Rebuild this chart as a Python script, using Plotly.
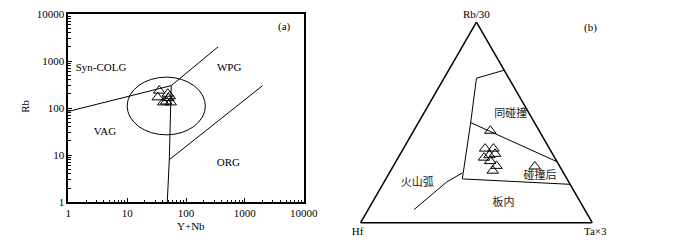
import plotly.graph_objects as go

# ---------------- Panel (a): Rb vs Y+Nb (log-log) ----------------
samples_ynb = [35, 33, 49, 53, 46, 41, 55, 50]
samples_rb = [235, 169, 202, 179, 138, 132, 132, 163]

# boundary lines (Pearce et al. 1984)
vag_syn_x = [1, 56]
vag_syn_y = [85, 300]
wpg_syn_x = [56, 350]
wpg_syn_y = [300, 2000]
vag_wpg_x = [56, 52, 48]
vag_wpg_y = [300, 8, 1]
wpg_org_x = [52, 2000]
wpg_org_y = [8, 300]

# post-collisional field (ellipse bounding box)
ellipse_x = [10, 213]
ellipse_y = [27, 455]

# field labels (a)
field_a_names = ["Syn-COLG", "WPG", "VAG", "ORG"]
field_a_x = [3.6, 540, 4.2, 525]
field_a_y = [705, 705, 30, 6.8]

tick_vals = [1, 10, 100, 1000, 10000]
tick_text = ["1", "10", "100", "1000", "10000"]
minor_tick_vals = [m * d for d in [1, 10, 100, 1000] for m in range(2, 10)]

# ---------------- Panel (b): Hf - Rb/30 - Ta*3 ternary ----------------
tern_a = [0.458, 0.369, 0.369, 0.343, 0.324, 0.336, 0.307, 0.283, 0.259, 0.280]   # Rb/30
tern_b = [0.211, 0.278, 0.242, 0.248, 0.305, 0.276, 0.287, 0.272, 0.300, 0.108]   # Hf
tern_c = [0.331, 0.353, 0.389, 0.409, 0.371, 0.388, 0.406, 0.445, 0.441, 0.612]   # Ta*3

# boundary lines (Harris et al. 1986)
top_line_a = [0.76, 0.72]
top_line_b = [0.0, 0.14]
top_line_c = [0.24, 0.14]
left_line_a = [0.72, 0.4985, 0.218]
left_line_b = [0.14, 0.2755, 0.452]
left_line_c = [0.14, 0.226, 0.330]
syn_post_a = [0.4985, 0.304]
syn_post_b = [0.2755, 0.0]
syn_post_c = [0.226, 0.696]
post_wp_a = [0.218, 0.191]
post_wp_b = [0.452, 0.0]
post_wp_c = [0.330, 0.809]
arc_a = [0.248, 0.202, 0.065]
arc_b = [0.437, 0.528, 0.737]
arc_c = [0.315, 0.270, 0.198]

field_b_names = ["同碰撞", "碰撞后", "火山弧", "板内"]
field_b_a = [0.542, 0.232, 0.194, 0.095]
field_b_b = [0.081, 0.109, 0.659, 0.336]
field_b_c = [0.377, 0.659, 0.147, 0.569]

SERIF = "Liberation Serif, Times New Roman, serif"
CJK = "Noto Sans CJK SC"
BLACK = "black"

fig = go.Figure()

line_style = dict(color=BLACK, width=1)
for xs, ys in [(vag_syn_x, vag_syn_y), (wpg_syn_x, wpg_syn_y),
               (vag_wpg_x, vag_wpg_y), (wpg_org_x, wpg_org_y)]:
    fig.add_trace(go.Scatter(x=xs, y=ys, mode="lines", line=line_style,
                             showlegend=False, hoverinfo="skip",
                             xaxis="x", yaxis="y"))

fig.add_trace(go.Scatter(
    x=samples_ynb, y=samples_rb, mode="markers",
    marker=dict(symbol="triangle-up-open", size=10, color=BLACK,
                line=dict(width=1, color=BLACK)),
    showlegend=False, xaxis="x", yaxis="y"))

fig.add_trace(go.Scatter(
    x=field_a_x, y=field_a_y, mode="text", text=field_a_names,
    textfont=dict(family=SERIF, size=11, color=BLACK),
    showlegend=False, hoverinfo="skip", xaxis="x", yaxis="y"))

fig.add_shape(type="circle", xref="x", yref="y",
              x0=ellipse_x[0], x1=ellipse_x[1],
              y0=ellipse_y[0], y1=ellipse_y[1],
              line=dict(color=BLACK, width=1))

# ternary traces
for aa, bb, cc in [(top_line_a, top_line_b, top_line_c),
                   (left_line_a, left_line_b, left_line_c),
                   (syn_post_a, syn_post_b, syn_post_c),
                   (post_wp_a, post_wp_b, post_wp_c),
                   (arc_a, arc_b, arc_c)]:
    fig.add_trace(go.Scatterternary(a=aa, b=bb, c=cc, mode="lines",
                                    line=line_style, showlegend=False,
                                    hoverinfo="skip", subplot="ternary"))

fig.add_trace(go.Scatterternary(
    a=tern_a, b=tern_b, c=tern_c, mode="markers",
    marker=dict(symbol="triangle-up-open", size=10, color=BLACK,
                line=dict(width=1, color=BLACK)),
    showlegend=False, subplot="ternary"))

fig.add_trace(go.Scatterternary(
    a=field_b_a, b=field_b_b, c=field_b_c, mode="text", text=field_b_names,
    textfont=dict(family=CJK, size=11, color="#222"),
    showlegend=False, hoverinfo="skip", subplot="ternary"))

axis_common = dict(
    type="log", range=[0, 4], showgrid=False, zeroline=False,
    showline=True, linecolor=BLACK, linewidth=1.5, mirror=True,
    ticks="inside", ticklen=4, tickcolor=BLACK, tickwidth=1,
    tickmode="array", tickvals=tick_vals, ticktext=tick_text,
    ticklabeloverflow="allow",
    tickfont=dict(family=SERIF, size=11, color=BLACK),
    minor=dict(tickmode="array", tickvals=minor_tick_vals,
               ticks="inside", ticklen=2.5, tickcolor=BLACK, tickwidth=1,
               showgrid=False),
)

tern_axis = dict(showline=True, linecolor=BLACK, linewidth=1.5,
                 ticks="", showticklabels=False, showgrid=False)

ann_font = dict(family=SERIF, size=11, color=BLACK)
fig.update_layout(
    width=700, height=242,
    margin=dict(l=0, r=0, t=0, b=0),
    paper_bgcolor="white", plot_bgcolor="white",
    font=dict(family=SERIF, size=11, color=BLACK),
    xaxis=dict(domain=[0.0839, 0.4286], anchor="y", **axis_common),
    yaxis=dict(domain=[0.1818, 1.0], anchor="x", **axis_common),
    ternary=dict(
        domain=dict(x=[0.5079, 0.855], y=[0.0929, 0.9649]),
        sum=1, bgcolor="white",
        aaxis=dict(title=dict(text="Rb/30", font=ann_font), **tern_axis),
        baxis=dict(title=dict(text="Hf", font=ann_font), **tern_axis),
        caxis=dict(title=dict(text="Ta×3", font=ann_font), **tern_axis),
    ),
    annotations=[
        dict(text="(a)", x=0.4010, y=0.9475, xref="paper", yref="paper",
             xanchor="center", yanchor="middle", showarrow=False, font=ann_font),
        dict(text="(b)", x=0.8481, y=0.9393, xref="paper", yref="paper",
             xanchor="center", yanchor="middle", showarrow=False, font=ann_font),
        dict(text="Rb", x=0.0214, y=0.5992, xref="paper", yref="paper",
             xanchor="center", yanchor="middle", textangle=-90,
             showarrow=False, font=ann_font),
        dict(text="Y+Nb", x=0.2629, y=0.0785, xref="paper", yref="paper",
             xanchor="center", yanchor="middle", showarrow=False, font=ann_font),
    ],
)

fig.write_html("out.html")
